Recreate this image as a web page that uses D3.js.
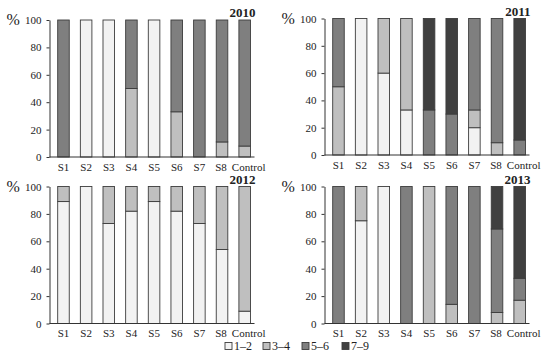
<!DOCTYPE html>
<html>
<head>
<meta charset="utf-8">
<script src="https://cdn.jsdelivr.net/npm/d3@7"></script>
<style>
  body { margin: 0; background: #fff; }
  text { font-family: "Liberation Serif", "DejaVu Serif", serif; fill: #222; }
</style>
</head>
<body>
<div id="chart"></div>
<script>
// data: % of trees in each class per site
let categories = ["S1", "S2", "S3", "S4", "S5", "S6", "S7", "S8", "Control"];
let classes = ["1–2", "3–4", "5–6", "7–9"];
let colors = ["#f2f2f2", "#bfbfbf", "#7f7f7f", "#404040"];
let yTicks = [0, 20, 40, 60, 80, 100];

// [1–2, 3–4, 5–6, 7–9] for each site
let y2010 = [
    [0, 0, 100, 0], [100, 0, 0, 0], [100, 0, 0, 0], [0, 50, 50, 0], [100, 0, 0, 0],
    [0, 33, 67, 0], [0, 0, 100, 0], [0, 11, 89, 0], [0, 8, 92, 0]
];
let y2011 = [
    [0, 50, 50, 0], [100, 0, 0, 0], [60, 40, 0, 0], [33, 67, 0, 0], [0, 0, 33, 67],
    [0, 0, 30, 70], [20, 13, 67, 0], [0, 9, 91, 0], [0, 0, 11, 89]
];
let y2012 = [
    [89, 11, 0, 0], [100, 0, 0, 0], [73, 27, 0, 0], [82, 18, 0, 0], [89, 11, 0, 0],
    [82, 18, 0, 0], [73, 27, 0, 0], [54, 46, 0, 0], [9, 91, 0, 0]
];
let y2013 = [
    [0, 0, 100, 0], [75, 25, 0, 0], [100, 0, 0, 0], [0, 0, 100, 0], [0, 100, 0, 0],
    [0, 14, 86, 0], [0, 0, 100, 0], [0, 8, 61, 31], [0, 17, 16, 67]
];

let years = ["2010", "2011", "2012", "2013"];
let yearData = [y2010, y2011, y2012, y2013];

let svgWidth = 550;
let svgHeight = 360;

let svg = d3.select("#chart")
    .append("svg")
    .attr("width", svgWidth)
    .attr("height", svgHeight);

// panel layout (y-axis x, top of 100, bottom at 0)
let panels = [
    { x: 49.5, top: 20, bottom: 157 },
    { x: 324.5, top: 18.5, bottom: 155 },
    { x: 49.5, top: 186.5, bottom: 323.5 },
    { x: 324.5, top: 186.5, bottom: 323.5 }
];

let step = 22.65;

panels.forEach(function(p, i) {
    let rows = yearData[i].map(function(v, j) {
        let row = { cat: categories[j] };
        classes.forEach((c, k) => row[c] = v[k]);
        return row;
    });

    let x = d3.scaleBand()
        .domain(categories)
        .range([p.x - 2.9, p.x - 2.9 + step * (categories.length + 0.49)])
        .paddingInner(0.49)
        .paddingOuter(0.49);

    let y = d3.scaleLinear()
        .domain([0, 100])
        .range([p.bottom, p.top]);

    let g = svg.append("g");

    let stacked = d3.stack().keys(classes)(rows);

    g.selectAll("g.layer")
        .data(stacked)
        .enter()
        .append("g")
        .attr("class", "layer")
        .attr("fill", (d, k) => colors[k])
        .selectAll("rect")
        .data(d => d.filter(s => s[1] - s[0] > 0))
        .enter()
        .append("rect")
        .attr("x", d => x(d.data.cat))
        .attr("width", x.bandwidth())
        .attr("y", d => y(d[1]))
        .attr("height", d => y(d[0]) - y(d[1]))
        .attr("stroke", "#3c3c3c")
        .attr("stroke-width", 0.9);

    // y axis
    let yAxis = g.append("g")
        .attr("transform", `translate(${p.x},0)`)
        .call(d3.axisLeft(y).tickValues(yTicks).tickSize(3).tickSizeOuter(0).tickPadding(5));
    yAxis.select(".domain").attr("stroke", "#333");
    yAxis.selectAll(".tick line").attr("stroke", "#333");
    yAxis.selectAll("text")
        .style("font-family", "Liberation Serif, serif")
        .style("font-size", "11px")
        .attr("fill", "#222");

    // x axis line
    g.append("line")
        .attr("x1", p.x)
        .attr("x2", p.x + 205)
        .attr("y1", p.bottom)
        .attr("y2", p.bottom)
        .attr("stroke", "#333");

    let xAxis = g.append("g")
        .attr("transform", `translate(0,${p.bottom})`)
        .call(d3.axisBottom(x).tickSize(0).tickPadding(6));
    xAxis.select(".domain").remove();
    xAxis.selectAll("text")
        .style("font-family", "Liberation Serif, serif")
        .style("font-size", "11px")
        .attr("fill", "#222")
        .attr("dx", d => d === "Control" ? 4 : (d === "S8" ? -1 : 0));

    // % label
    g.append("text")
        .attr("x", p.x - 43)
        .attr("y", p.top + 5)
        .style("font-size", "16px")
        .text("%");

    // year title
    g.append("text")
        .attr("x", p.x + 206)
        .attr("y", p.top - 3)
        .attr("text-anchor", "end")
        .style("font-size", "13px")
        .style("font-weight", "bold")
        .text(years[i]);
});

// legend
let legendX = [225, 263, 302, 342];
let legend = svg.append("g");
classes.forEach(function(c, k) {
    legend.append("rect")
        .attr("x", legendX[k])
        .attr("y", 342.5)
        .attr("width", 7)
        .attr("height", 7)
        .attr("fill", colors[k])
        .attr("stroke", "#3c3c3c")
        .attr("stroke-width", 0.9);
    legend.append("text")
        .attr("x", legendX[k] + 9)
        .attr("y", 350)
        .style("font-size", "12px")
        .text(c);
});
</script>
</body>
</html>
